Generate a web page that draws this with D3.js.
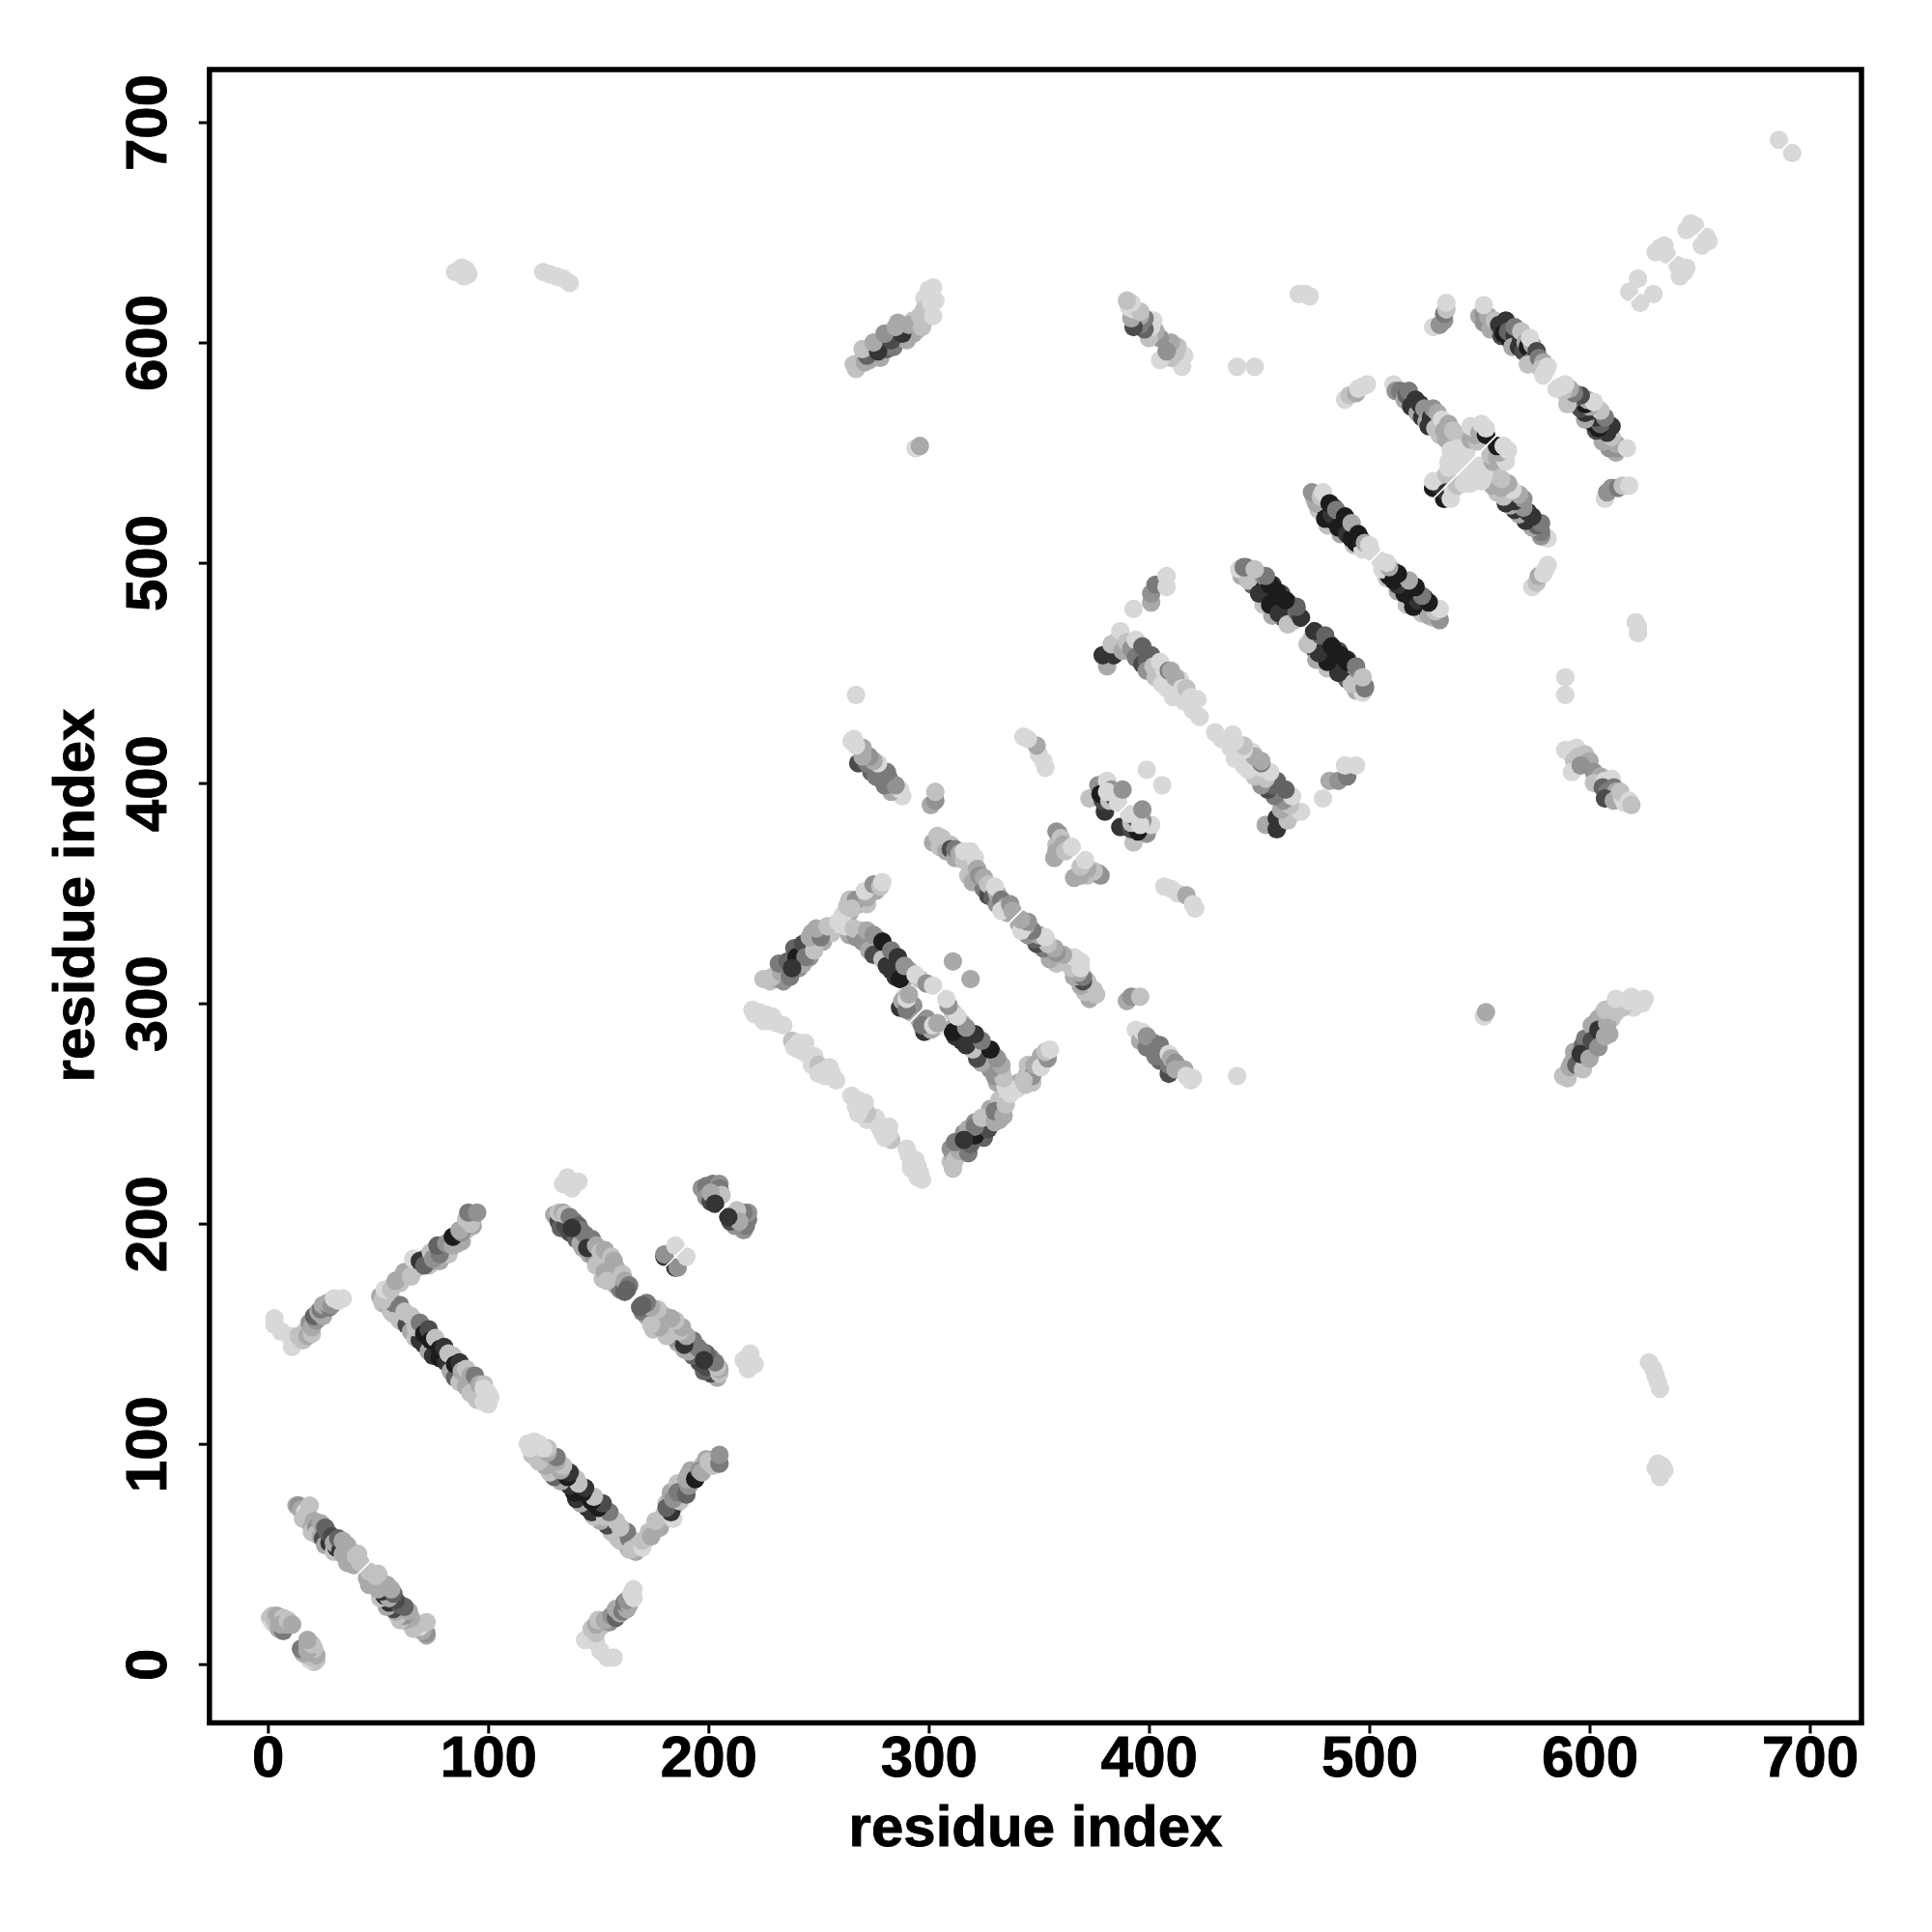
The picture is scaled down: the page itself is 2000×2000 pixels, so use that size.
<!DOCTYPE html>
<html><head><meta charset="utf-8">
<script src="https://cdn.jsdelivr.net/npm/d3@7"></script>
<style>html,body{margin:0;background:#fff}svg{display:block}</style>
</head><body><div id="c"></div>
<script>
// Each contact: [residue i, residue j, darkness 1..9]; the map is symmetric, so (j,i) is drawn too.
const xTicks=[0,100,200,300,400,500,600,700];
const yTicks=[0,100,200,300,400,500,600,700];
const axisTitle="residue index";
const b01=[[1,21,2],[2,19,1],[2,22,2],[3,20,2],[4,22,3],[4,18,2],[5,20,3],[7,21,2],[5,16,3],[7,15,5],[6,18,3],[9,18,3],[9,20,2],[11,18,3]];
const b02=[[13,72,3],[14,72,4],[15,70,3],[17,69,1],[16,66,2],[18,65,2],[18,68,2],[19,72,2],[20,62,3],[21,65,3],[20,60,2],[22,62,4],[22,59,2],[24,58,3],[24,64,3],[25,57,7],[26,54,3],[26,62,6],[28,55,8],[27,60,6],[29,58,7],[30,51,2],[31,53,8],[30,55,3],[33,52,8],[32,57,6],[34,50,3],[34,56,3],[36,46,3],[37,49,3],[36,54,3],[38,51,3],[39,45,3],[40,49,2],[41,50,2],[42,46,2]];
const b03=[[51,167,3],[52,164,2],[54,163,3],[56,160,2],[57,159,2],[60,156,2],[63,154,7],[65,151,3],[67,148,2],[69,147,8],[71,145,8],[73,142,3],[75,140,8],[78,139,9],[81,137,8],[83,133,3],[85,130,6],[87,128,2],[90,126,3],[92,123,2],[95,120,2],[98,119,1],[100,118,1],[55,167,3],[57,164,5],[60,163,5],[62,160,2],[65,158,2],[67,153,2],[69,155,5],[71,150,9],[73,152,7],[74,147,9],[76,148,2],[78,143,9],[80,144,8],[82,141,2],[84,140,2],[85,136,9],[87,137,8],[88,133,3],[90,134,2],[92,131,3],[94,131,5],[96,127,3],[98,127,2],[98,125,1],[100,123,1],[101,121,1]];
const b04=[[52,165,2],[54,168,2],[57,172,2],[60,173,2],[61,176,2],[64,178,2],[66,180,8],[68,180,2],[71,184,4],[73,181,2],[76,183,3],[78,183,3],[80,187,8],[82,186,2],[82,191,5],[86,191,3],[86,194,4],[88,192,3],[90,197,2],[93,199,3],[93,203,4],[53,170,1],[56,170,2],[58,174,3],[62,178,3],[65,176,2],[66,184,1],[69,183,8],[71,181,6],[74,187,2],[75,184,4],[78,186,5],[77,190,6],[81,191,4],[84,190,3],[84,194,9],[88,196,4],[87,197,3],[90,202,2],[92,200,2],[91,205,5],[95,205,4]];
const b05=[[3,157,1],[3,154,1],[6,151,1],[11,144,1],[10,149,1],[14,147,1],[14,149,2],[16,147,2],[17,151,2],[18,149,3],[20,150,2],[19,155,4],[20,153,3],[22,156,4],[21,158,6],[25,158,3],[23,160,3],[24,161,5],[25,163,3],[28,162,5],[27,164,3],[29,163,4],[30,166,1],[32,165,1],[34,166,1]];
const b06=[[130,204,3],[132,201,7],[133,198,6],[135,199,7],[137,196,7],[140,193,6],[142,191,3],[143,189,3],[146,186,3],[148,185,4],[149,181,2],[152,175,2],[153,178,3],[156,175,3],[158,172,3],[160,170,5],[162,169,6],[132,205,2],[134,205,3],[135,204,2],[137,203,5],[139,201,5],[141,199,6],[142,197,5],[144,195,5],[147,193,5],[138,198,8],[145,189,8],[149,190,3],[151,187,2],[153,188,3],[156,185,2],[157,183,3],[158,180,3],[159,178,3],[154,174,2],[161,177,2],[162,174,3],[164,172,5],[163,170,6]];
const b07=[[134,218,1],[136,221,1],[138,219,1],[141,219,1],[138,216,1]];
const b08=[[197,216,4],[199,217,5],[199,212,4],[201,210,7],[202,218,5],[203,213,8],[205,218,4],[205,216,5],[206,213,2],[201,214,3],[203,209,8]];
const b09=[[180,185,8],[180,186,4],[185,190,1]];
const b10=[[220,297,1],[221,295,1],[223,296,1],[226,295,1],[225,292,1],[229,294,1],[227,292,1],[231,291,1],[234,290,1],[238,283,2],[239,280,1],[241,282,1],[244,282,1],[241,279,1],[243,278,1],[245,277,1],[247,272,1],[248,276,1],[250,272,2],[250,268,1],[252,269,1],[255,271,1],[253,267,1],[256,268,1],[258,265,1],[228,293,1]];
const b11=[[225,311,2],[228,310,2],[231,311,3],[234,310,4],[235,314,6],[237,317,7],[239,318,9],[241,316,4],[241,320,8],[243,318,3],[246,321,4],[245,325,6],[248,327,4],[247,332,3],[252,328,3],[252,333,3],[256,332,2],[258,336,1],[264,341,3],[266,344,3],[268,345,3],[270,347,3],[272,345,2],[274,351,3],[276,351,3],[264,347,2],[226,311,2],[229,312,2],[233,314,3],[232,318,5],[237,312,5],[236,319,6],[239,325,6],[240,321,9],[243,327,7],[244,321,5],[238,316,8],[248,324,2],[246,330,3],[251,330,5],[249,334,3],[254,335,2],[259,337,1],[261,340,1],[263,344,2],[267,347,4],[265,343,2],[272,348,3],[271,351,1],[275,354,4],[278,353,2],[279,355,1]];
const b12=[[264,331,3],[267,330,4],[269,333,3],[271,330,5],[273,328,8],[274,326,6],[277,324,8],[277,329,7],[279,323,9],[280,325,6],[282,319,9],[283,315,8],[285,318,8],[287,314,9],[288,315,7],[291,315,3],[290,312,3],[296,311,2],[262,335,1],[266,334,2],[270,328,4],[273,324,3],[272,333,3],[275,331,4],[275,322,7],[279,320,2],[279,328,9],[281,317,8],[283,324,5],[285,312,8],[287,311,9],[286,321,8],[289,317,4],[294,313,1],[299,309,4],[302,308,1],[287,298,8],[289,303,1],[288,301,3],[292,296,3],[293,299,4],[290,297,5],[290,302,1],[291,304,3],[311,319,3]];
const b13=[[302,373,3],[304,376,2],[305,371,2],[306,375,2],[308,369,3],[310,372,2],[310,370,7],[312,366,3],[312,370,5],[314,368,3],[316,365,2],[316,369,1],[318,358,2],[319,362,2],[319,369,1],[321,366,1],[320,355,3],[322,361,3],[323,358,4],[325,352,5],[325,357,3],[327,349,7],[327,354,2],[329,348,6],[331,345,4],[331,350,3],[330,353,1],[333,347,5],[335,344,3],[336,341,3],[333,342,1],[337,345,4],[338,342,3]];
const b14=[[301,390,3],[303,392,4],[303,396,2]];
const b15=[[288,394,1],[283,396,3],[287,397,1],[280,399,5],[282,402,5],[285,399,4],[278,402,5],[274,405,6],[276,403,5],[281,405,5],[268,409,7],[272,409,5],[277,409,1],[275,410,3],[273,412,4],[270,412,3],[270,416,3],[266,420,1],[267,417,1],[265,419,1]];
const b16=[[267,440,1]];
const b17=[[353,407,1],[352,410,1],[350,413,1],[349,417,3],[345,420,1],[343,421,1]];
const b18=[[357,366,3],[358,378,4],[358,372,2],[358,369,3],[359,377,4],[360,375,2],[361,372,3],[362,369,2],[365,371,1]];
const b19=[[373,393,2],[377,399,4],[380,387,8],[380,392,8],[379,392,7],[378,395,9],[381,401,1],[383,397,4],[382,392,2],[384,394,7],[381,396,1],[386,391,1],[387,396,1],[388,397,4]];
const b20=[[399,406,1]];
const b21=[[381,453,3],[379,458,8],[384,458,8],[383,463,2],[386,465,2],[388,460,3],[387,469,1],[390,464,2],[392,461,4],[394,465,1],[394,457,5],[397,454,7],[397,462,6],[399,456,6],[399,451,4],[401,458,6],[402,453,2],[403,448,2],[405,455,1],[406,445,1],[407,451,1],[408,443,1],[409,451,5],[410,451,3],[411,439,1],[414,447,1],[412,448,3],[415,443,1],[416,437,1],[417,443,2],[419,439,1],[420,433,1],[422,438,1],[423,430,1]];
const b22=[[393,479,1],[401,482,3],[401,486,4],[403,490,5],[408,489,1],[408,494,1]];
const b23=[[442,494,3],[446,495,3],[447,490,6],[449,492,7],[451,489,9],[453,484,9],[454,490,7],[457,482,9],[458,484,7],[461,475,8],[461,480,8],[464,478,3],[466,474,2],[452,481,2],[456,476,3],[441,497,1],[445,492,2],[444,498,5],[448,496,2],[450,486,8],[452,494,4],[455,481,9],[456,490,8],[459,477,8],[460,486,7],[463,472,2],[463,482,8],[467,478,6],[469,475,8],[467,480,6],[462,483,9],[458,487,9],[455,490,9],[453,494,5],[443,498,5],[448,497,2]];
const b24=[[475,529,2],[477,524,2],[479,526,9],[481,517,2],[484,519,9],[484,525,8],[487,513,3],[488,518,9],[491,516,8],[493,508,2],[494,509,9],[497,506,1],[476,527,3],[474,532,4],[478,530,2],[479,532,1],[480,520,9],[483,522,8],[482,527,9],[485,524,5],[486,516,9],[489,521,9],[490,513,8],[492,511,9],[492,518,3],[496,511,9],[495,513,9],[498,509,3],[500,508,1],[501,505,1]];
const b25=[[489,574,1],[491,576,2],[494,577,3],[495,579,1],[497,580,1],[499,581,1]];
const b26=[[511,581,1],[512,578,4],[514,578,5],[516,574,3],[517,576,6],[518,578,5],[519,571,8],[522,568,3],[524,566,8],[521,574,8],[523,572,8],[525,570,4],[526,564,3],[527,562,8],[528,566,8],[529,570,4],[530,561,2],[531,568,3],[532,558,2],[533,565,1],[534,560,3],[535,556,3],[536,563,3],[538,560,2],[540,557,2],[529,534,9],[532,535,8],[529,537,1],[533,538,1],[535,540,2],[536,543,1],[536,546,1],[539,549,1],[538,544,1],[537,551,1],[541,550,1],[542,547,1],[540,552,1],[544,550,1],[543,552,1],[545,559,2],[546,556,3],[549,555,2],[548,558,3],[546,562,1],[548,561,1],[550,559,3],[553,558,9],[553,561,1],[551,563,1]];
const b27=[[529,607,1],[532,608,4],[534,610,4],[534,613,5],[535,615,2],[535,618,1]];
const b28=[[550,612,3],[552,609,4],[552,613,4],[554,612,3],[555,606,3],[552,617,1],[558,606,3],[557,610,2],[559,608,8],[560,603,7],[564,601,9],[562,610,8],[567,600,9],[561,604,9],[563,605,6],[566,603,8],[566,607,5],[565,598,3],[568,598,8],[569,601,8],[569,605,2],[570,596,7],[571,600,3],[572,598,9],[574,599,3],[573,602,1],[574,592,6],[576,596,7],[572,590,2],[576,590,2],[577,593,5],[579,591,3],[578,588,2],[579,585,1],[580,587,1],[581,589,1]];
const b29=[[267,588,2],[270,592,4],[273,592,3],[274,597,4],[278,593,3],[279,599,5],[281,597,6],[282,604,3],[284,598,5],[286,603,7],[286,609,3],[290,601,3],[290,606,8],[293,604,3],[293,610,2],[295,606,3],[295,609,2],[298,610,2],[299,618,1],[298,620,1],[303,619,1],[300,624,1],[266,590,2],[268,590,2],[271,591,3],[272,594,6],[270,597,2],[277,596,8],[275,600,3],[283,601,7],[280,604,4],[288,604,8],[285,607,3],[291,608,3],[297,607,2],[296,612,2],[298,615,2],[302,612,1],[301,618,1],[301,621,1],[302,625,1]];
const b30=[[415,589,1],[416,594,1],[414,591,1],[412,595,2],[413,598,2],[410,593,2],[410,600,3],[405,592,1],[408,596,4],[405,602,4],[403,605,3],[400,602,2],[402,610,1],[401,607,1],[398,606,6],[396,608,5],[398,611,5],[396,612,3],[393,607,7],[392,611,3],[393,615,1],[391,616,1],[396,614,2],[392,618,1],[390,619,2]];
const b31=[[440,589,1],[448,589,1],[468,622,1],[471,622,1],[473,621,1],[294,552,1],[296,553,3]];
const b32=[[85,632,1],[88,634,1],[90,633,1],[89,630,1],[91,631,1],[125,632,1],[128,631,1],[131,630,1],[134,629,1],[137,627,1]];
const b33=[[618,623,1],[622,629,1],[630,641,1],[632,643,1],[634,644,1],[635,640,1],[644,651,1],[646,654,1],[648,653,1],[686,692,1]];
const bands=[b01,b02,b05,b03,b04,b06,b07,b09,b08,b10,b11,b12,b13,b14,b15,b16,b17,b18,b19,b20,b21,b22,b23,b24,b25,b26,b27,b28,b29,b30,b31,b32,b33];

const W=2000,H=2000;
const svg=d3.select("#c").append("svg").attr("width",W).attr("height",H);
const x=d3.scaleLinear().domain([0,700]).range([277.3,1873.5]);
const y=d3.scaleLinear().domain([0,700]).range([1722.7,126.5]);
const grey=d3.scaleLinear().domain([1,9]).range(["#d8d8d8","#1c1c1c"]);
const contacts=[];
bands.forEach(b=>{b.forEach(p=>contacts.push(p));b.forEach(p=>contacts.push([p[1],p[0],p[2]]));});
svg.append("g").selectAll("circle").data(contacts).join("circle")
  .attr("cx",d=>x(d[0])).attr("cy",d=>y(d[1])).attr("r",9.6).attr("fill",d=>grey(d[2]));
svg.append("line").attr("x1",x(-20)).attr("y1",y(-20)).attr("x2",x(720)).attr("y2",y(720))
  .attr("stroke","#fff").attr("stroke-width",1.6);
svg.append("rect").attr("x",216.8).attr("y",72).attr("width",1710.2).attr("height",1711.5)
  .attr("fill","none").attr("stroke","#000").attr("stroke-width",5.5);
const font="'Liberation Sans',Arial,sans-serif";
const ax=svg.append("g").attr("transform","translate(0,1783.5)")
  .call(d3.axisBottom(x).tickValues(xTicks).tickSize(11).tickPadding(5));
const ay=svg.append("g").attr("transform","translate(216.8,0)")
  .call(d3.axisLeft(y).tickValues(yTicks).tickSize(11).tickPadding(5));
[ax,ay].forEach(a=>{a.select(".domain").remove();a.selectAll("line").attr("stroke","#000").attr("stroke-width",3);});
const bold=s=>s.style("font",`bold 60px ${font}`).attr("fill","#000").attr("stroke","#000").attr("stroke-width",0.9);
bold(ax.selectAll("text").attr("dy",null).attr("y",55).attr("text-anchor","middle"));
bold(ay.selectAll("text").attr("dy",null).attr("text-anchor","middle")
  .attr("transform","translate(-45,0) rotate(-90)").attr("x",0).attr("y",0));
bold(svg.append("text").attr("x",1072).attr("y",1911).attr("text-anchor","middle").text(axisTitle));
bold(svg.append("text").attr("transform","translate(97,927) rotate(-90)").attr("text-anchor","middle").text(axisTitle));
</script></body></html>
